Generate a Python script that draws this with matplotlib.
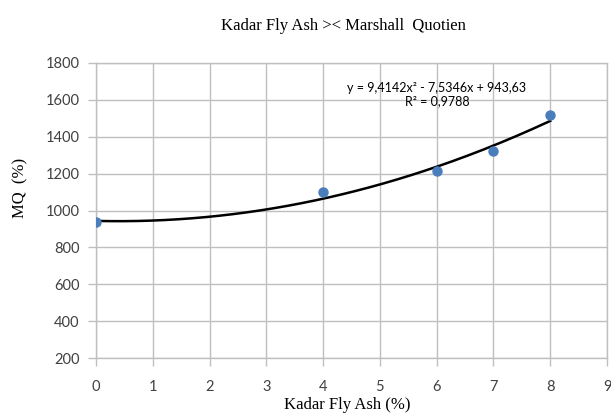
import numpy as np
import matplotlib
matplotlib.use("Agg")
import matplotlib.pyplot as plt

# data
kadar = [0, 4, 6, 7, 8]
mq = [940, 1100, 1213, 1322, 1520]
# trendline coefficients shown on the chart (a x^2 + b x + c)
coef = [9.4142, -7.5346, 943.63]
eq_text = "y = 9,4142x² - 7,5346x + 943,63\nR² = 0,9788"

grid_col = "#bfbfbf"
tick_font = "Lato"
serif = ["Liberation Serif", "DejaVu Serif"]

fig = plt.figure(figsize=(6.11, 4.17), dpi=100)
ax = fig.add_axes([96/611, 59/417, 511/611, 295/417])

xs = np.linspace(0, 8, 200)
ax.plot(xs, np.polyval(coef, xs), color="black", lw=1.8, zorder=3)
ax.plot(kadar, mq, "o", color="#4a7ebb", ms=6.5, zorder=4)

ax.set_xlim(0, 9)
ax.set_ylim(200, 1800)
ax.set_xticks(range(0, 10))
ax.set_yticks(range(200, 1801, 200))
ax.grid(True, color=grid_col, lw=1)
ax.set_axisbelow(True)
for s in ax.spines.values():
    s.set_color(grid_col)
    s.set_linewidth(1)
ax.tick_params(color=grid_col, length=6, width=1, labelsize=10.5)
ax.tick_params(axis="x", pad=10)
ax.tick_params(axis="y", pad=6)
for lab in ax.get_xticklabels() + ax.get_yticklabels():
    lab.set_fontfamily(tick_font)
    lab.set_color("#404040")

fig.text(437/611, 1 - 95/417, eq_text, ha="center", va="center",
         fontsize=9, family=tick_font, linespacing=1.1)

fig.text(343/611, 1 - 26/417, "Kadar Fly Ash >< Marshall  Quotien",
         ha="center", va="center", fontsize=12, family=serif)
fig.text(347/611, 1 - 405/417, "Kadar Fly Ash (%)", ha="center", va="center",
         fontsize=12, family=serif)
fig.text(20/611, 1 - 188/417, "MQ  (%)", ha="center", va="center",
         rotation=90, fontsize=12, family=serif)

fig.savefig("out.png", dpi=100)
